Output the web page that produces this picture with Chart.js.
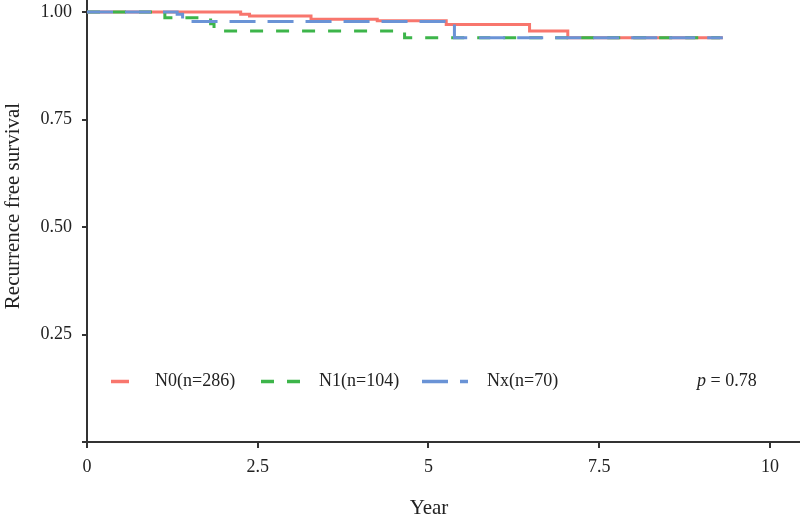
<!DOCTYPE html>
<html><head><meta charset="utf-8">
<script src="https://cdn.jsdelivr.net/npm/chart.js@4/dist/chart.umd.min.js"></script>
<style>html,body{margin:0;padding:0;background:#fff}canvas{display:block}</style>
</head><body>
<canvas id="c" width="800" height="518"></canvas>
<script>
// ---- data ----
const xTicks = [0, 2.5, 5, 7.5, 10];
const yTicks = [0, 0.25, 0.5, 0.75, 1];
const seriesNames = ['N0(n=286)', 'N1(n=104)', 'Nx(n=70)'];
const n0Time = [0, 2.25, 2.38, 3.28, 4.25, 5.26, 6.48, 7.04, 9.31];
const n0Surv = [1, 0.995, 0.991, 0.983, 0.980, 0.971, 0.956, 0.940, 0.940];
const n1Time = [0, 1.14, 1.81, 1.86, 4.65, 9.27];
const n1Surv = [1, 0.987, 0.973, 0.956, 0.940, 0.940];
const nxTime = [0, 1.32, 1.40, 5.38, 9.31];
const nxSurv = [1, 0.995, 0.978, 0.940, 0.940];
const pValue = '0.78';
const xTitle = 'Year';
const yTitle = 'Recurrence free survival';

const FONT = '"Liberation Serif", "Times New Roman", serif';
const colors = ['#F8766D', '#3DB54A', '#6A93D6'];
const dashes = [[], [13, 13], [26, 12]];

function pts(t, s) { return t.map((v, i) => ({x: v, y: s[i]})); }

const legendPlugin = {
  id: 'kmExtras',
  afterDraw(chart) {
    const ctx = chart.ctx;
    ctx.save();
    const keys = [[111, 129], [261, 300], [422, 468]];
    const textX = [155, 319, 487];
    const ly = 381.5;
    keys.forEach((k, i) => {
      ctx.beginPath();
      ctx.setLineDash(dashes[i]);
      ctx.lineDashOffset = 0;
      ctx.strokeStyle = colors[i];
      ctx.lineWidth = 3.5;
      ctx.lineCap = 'butt';
      ctx.moveTo(k[0], ly);
      ctx.lineTo(k[1], ly);
      ctx.stroke();
    });
    ctx.setLineDash([]);
    ctx.fillStyle = '#222';
    ctx.font = '18px ' + FONT;
    ctx.textBaseline = 'middle';
    ctx.textAlign = 'left';
    seriesNames.forEach((n, i) => ctx.fillText(n, textX[i], ly));
    ctx.font = 'italic 18px ' + FONT;
    ctx.fillText('p', 697, ly);
    const pw = ctx.measureText('p').width;
    ctx.font = '18px ' + FONT;
    ctx.fillText(' = ' + pValue, 697 + pw, ly);
    ctx.font = '21px ' + FONT;
    ctx.textAlign = 'center';
    ctx.fillText(xTitle, 429, 508);
    ctx.translate(13, 206);
    ctx.rotate(-Math.PI / 2);
    ctx.fillText(yTitle, 0, 0);
    ctx.restore();
  }
};

new Chart(document.getElementById('c'), {
  type: 'line',
  data: {
    datasets: [
      {label: seriesNames[0], data: pts(n0Time, n0Surv), borderColor: colors[0], borderDash: dashes[0], order: 3},
      {label: seriesNames[1], data: pts(n1Time, n1Surv), borderColor: colors[1], borderDash: dashes[1], order: 2},
      {label: seriesNames[2], data: pts(nxTime, nxSurv), borderColor: colors[2], borderDash: dashes[2], order: 1}
    ].map(d => Object.assign(d, {stepped: 'before', borderWidth: 3, pointRadius: 0, fill: false, tension: 0}))
  },
  options: {
    responsive: false,
    animation: false,
    layout: {padding: 0},
    plugins: {legend: {display: false}, tooltip: {enabled: false}},
    scales: {
      x: {
        type: 'linear', min: 0, max: 10.44,
        afterFit(s) { s.height = 76; s.paddingLeft = 0; s.paddingRight = 0; },
        afterBuildTicks(s) { s.ticks = xTicks.map(v => ({value: v})); },
        grid: {drawOnChartArea: false, drawTicks: true, tickLength: 6, color: '#333', lineWidth: 2},
        border: {display: true, color: '#333', width: 2},
        ticks: {padding: 8, color: '#222', font: {family: FONT, size: 18}, callback: v => String(v), maxRotation: 0, autoSkip: false}
      },
      y: {
        type: 'linear', min: 0, max: 1.028,
        afterFit(s) { s.width = 87; s.paddingTop = 0; s.paddingBottom = 0; },
        afterBuildTicks(s) { s.ticks = yTicks.map(v => ({value: v})); },
        grid: {drawOnChartArea: false, drawTicks: true, tickLength: 5, color: '#333', lineWidth: 2},
        border: {display: true, color: '#333', width: 2},
        ticks: {padding: 10, color: '#222', font: {family: FONT, size: 18}, callback: v => v === 0 ? '' : v.toFixed(2), autoSkip: false}
      }
    }
  },
  plugins: [legendPlugin]
});
</script>
</body></html>
